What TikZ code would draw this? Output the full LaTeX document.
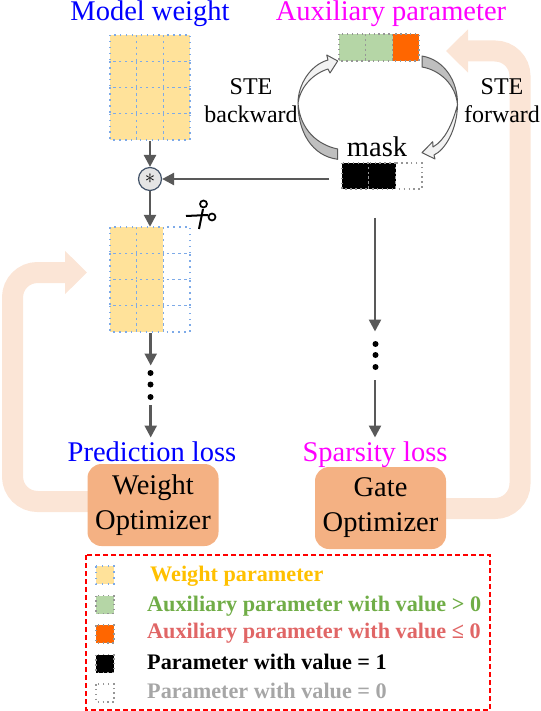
\documentclass[tikz,border=0pt]{standalone}
\usepackage{fontspec}
\setmainfont{Liberation Serif}
\usetikzlibrary{arrows.meta,positioning}
\definecolor{weightcol}{RGB}{255,226,154}
\definecolor{auxpos}{RGB}{181,214,166}
\definecolor{auxneg}{RGB}{255,102,0}
\definecolor{gridblue}{RGB}{125,170,232}
\definecolor{gridgray}{RGB}{150,150,150}
\definecolor{flowgray}{RGB}{89,89,89}
\definecolor{bandcol}{RGB}{251,229,214}
\definecolor{optcol}{RGB}{244,177,131}
\definecolor{mulcol}{RGB}{68,84,106}
\definecolor{titlemag}{RGB}{255,0,255}
\definecolor{titleblue}{RGB}{0,0,255}
\definecolor{legyellow}{RGB}{255,192,0}
\definecolor{leggreen}{RGB}{112,173,71}
\definecolor{legred}{RGB}{224,102,102}
\definecolor{leggray}{RGB}{166,166,166}
\tikzset{
  bigtxt/.style={font=\fontsize{28.5}{30}\selectfont,inner sep=0pt},
  midtxt/.style={font=\fontsize{24}{30}\selectfont,inner sep=0pt,align=center},
  legtxt/.style={font=\fontsize{22.2}{24}\selectfont\bfseries,inner sep=0pt,anchor=base west},
  flow/.style={flowgray,line width=2.5pt,-{Triangle[width=12pt,length=12pt]}},
  band/.style={bandcol,line width=21pt,rounded corners=25pt,-{Triangle[width=42pt,length=22pt]}},
  optbox/.style={fill=optcol,rounded corners=14pt,minimum width=131pt,minimum height=82pt,
    inner sep=0pt,align=center,font=\fontsize{28.5}{35}\selectfont},
  holder/.style={inner sep=0pt},
  bluecell/.style={draw=gridblue,line width=1.4pt,dash pattern=on 1.5pt off 4.4pt},
  graycell/.style={draw=gridgray,line width=1.3pt,dash pattern=on 1.5pt off 3.4pt},
  vdot/.style={circle,fill=black,inner sep=0pt,minimum size=6pt},
  blocktail/.style={draw=flowgray,fill=black!25,line width=1pt,line join=round},
  blockhead/.style={draw=flowgray,fill=black!5,line width=1pt,line join=round}
}
\begin{document}
\begin{tikzpicture}[x=1pt,y=-1pt]
  \useasboundingbox (0,0) rectangle (540,711);
  % titles
  \node[bigtxt,titleblue,anchor=base] (mwtitle) at (150,21) {Model weight};
  \node[bigtxt,titlemag,anchor=base] (auxtitle) at (391,21) {Auxiliary parameter};
  % the pale feedback bands, behind the optimizers
  \coordinate (wband) at (88,501.5);
  \coordinate (wbandend) at (87,272.5);
  \coordinate (gband) at (446,508.5);
  \coordinate (gbandend) at (446,51);
  \draw[band] (wband) -- (12.5,501.5) -- (12.5,272.5) -- (wbandend);
  \draw[band] (gband) -- (520,508.5) -- (520,51) -- (gbandend);
  \node[optbox] (wopt) at (153,505) {Weight\\Optimizer};
  \node[optbox] (gopt) at (380.5,508) {Gate\\Optimizer};
  \node[bigtxt,titleblue,anchor=base] (ploss) at (152,461) {Prediction loss};
  \node[bigtxt,titlemag,anchor=base] (sloss) at (375,461) {Sparsity loss};
  % model weight, full grid
  \foreach \x in {0,1,2} \foreach \y in {0,1,2,3}
     \fill[weightcol] (110+26.67*\x,35+26.25*\y) rectangle ++(26.67,26.25);
  \foreach \x in {0,1,2} \foreach \y in {0,1,2,3}
     \draw[bluecell] (110+26.67*\x,35+26.25*\y) rectangle ++(26.67,26.25);
  \node[holder,minimum width=80pt,minimum height=105pt] (mw) at (150,87.5) {};
  % pruned weight, last column empty
  \foreach \x in {0,1} \foreach \y in {0,1,2,3}
     \fill[weightcol] (110+26.67*\x,227+26.25*\y) rectangle ++(26.67,26.25);
  \foreach \x in {0,1,2} \foreach \y in {0,1,2,3}
     \draw[bluecell] (110+26.67*\x,227+26.25*\y) rectangle ++(26.67,26.25);
  \node[holder,minimum width=80pt,minimum height=105pt] (pw) at (150,279.5) {};
  % auxiliary parameter and mask
  \fill[auxpos] (339,34) rectangle (392.5,61);
  \fill[auxneg] (392.5,34) rectangle (419,61);
  \foreach \x in {0,1,2}
     \draw[graycell] (339+26.67*\x,34) rectangle ++(26.67,27);
  \fill[black] (342,163) rectangle (395.5,189);
  \foreach \x in {0,1,2}
     \draw[graycell] (342+26.67*\x,163) rectangle ++(26.67,26);
  \node[bigtxt,anchor=base] (masktxt) at (377,157) {mask};
  % the multiply sign
  \node[circle,draw=mulcol,fill=black!10,line width=1.2pt,minimum size=23pt,inner sep=0pt,
     font=\fontsize{20}{20}\selectfont] (mul) at (150,179) {$*$};
  % flow arrows
  \coordinate (maskout) at (329,179);
  \coordinate (maskdown) at (375,218);
  \coordinate (maskmid) at (375,331.5);
  \coordinate (sin) at (375,380);
  \coordinate (sout) at (375,437.5);
  \coordinate (pwout) at (150.7,333);
  \coordinate (pwmid) at (150.7,365.5);
  \coordinate (pin) at (150.7,405);
  \coordinate (pout) at (150.7,437.5);
  \coordinate (mwout) at (150,141);
  \draw[flow] (mwout) -- (mul.north);
  \draw[flow] (mul.south) -- (pw.north);
  \draw[flow] (maskout) -- (mul.east);
  \draw[flow] (pwout) -- (pwmid);
  \draw[flow] (pin) -- (pout);
  \draw[flow] (maskdown) -- (maskmid);
  \draw[flow] (sin) -- (sout);
  % dots
  \foreach \n/\y in {1/373,2/384.5,3/397}
     \node[vdot] (ldot\n) at (150.5,\y) {};
  \foreach \n/\y in {1/344,2/355,3/367}
     \node[vdot] (rdot\n) at (375.5,\y) {};
  % STE arrows
  \fill[blocktail] (337.7,159.3) .. controls (312,156) and (298,132) .. (298,103)
     .. controls (300,130) and (318,145) .. (337.7,149) -- cycle;
  \fill[blockhead] (298,103) .. controls (298,85) and (310,65) .. (328,60)
     -- (326.7,55) -- (337.7,61) -- (330,73) -- (328,69)
     .. controls (312,74) and (300,88) .. (298,103) -- cycle;
  \fill[blocktail] (422,56) .. controls (445,60) and (458,82) .. (457.5,105)
     .. controls (456,85) and (440,70) .. (422,67) -- cycle;
  \fill[blockhead] (457.5,105) .. controls (457,130) and (445,150) .. (434,155)
     -- (435,159) -- (422,152.7) -- (432.7,141.7) -- (433,147)
     .. controls (445,140) and (452,125) .. (457.5,105) -- cycle;
  \node[midtxt,anchor=base] (stel) at (251,95) {STE};
  \node[midtxt,anchor=base] (backw) at (251,123) {backward};
  \node[midtxt,anchor=base] (ster) at (502,95) {STE};
  \node[midtxt,anchor=base] (forw) at (502,123) {forward};
  % scissors
  \draw[black,line width=2pt] (186,216) -- (208,215);
  \draw[black,line width=2pt] (199,229) -- (203,209);
  \draw[black,line width=1.7pt] (203.5,204) circle (3.5);
  \draw[black,line width=1.7pt] (212,217) circle (3.5);
  % legend
  \draw[red,line width=1.2pt,dash pattern=on 5pt off 3pt] (86,555) rectangle (490,710);
  \foreach \y/\c/\e in {575/weightcol/bluecell,604.5/auxpos/graycell,634/auxneg/graycell,663.5/black/graycell,693/white/graycell}
     {\fill[\c] (96,\y-9) rectangle ++(18,18);
      \draw[\e] (96,\y-9) rectangle ++(18,18);}
  \node[legtxt,legyellow] (leg1) at (150,581.7) {Weight parameter};
  \node[legtxt,leggreen] (leg2) at (147,611) {Auxiliary parameter with value > 0};
  \node[legtxt,legred] (leg3) at (147,638) {Auxiliary parameter with value ≤ 0};
  \node[legtxt,black] (leg4) at (147,669) {Parameter with value = 1};
  \node[legtxt,leggray] (leg5) at (147,698) {Parameter with value = 0};
\end{tikzpicture}
\end{document}
